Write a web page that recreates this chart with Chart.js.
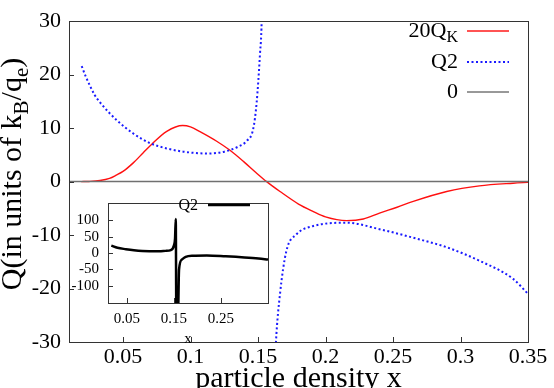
<!DOCTYPE html>
<html lang="en">
<head>
<meta charset="UTF-8" />
<title>Q versus particle density</title>
<script src="https://cdn.jsdelivr.net/npm/chart.js@4.4.0/dist/chart.umd.min.js"></script>
<style>
  body { margin: 0; background: #fff; }
  #wrap { position: relative; width: 554px; height: 388px; overflow: hidden; }
  #mainChart { position: absolute; left: 0; top: 0; }
  #insetChart { position: absolute; left: 60px; top: 185px; }
</style>
</head>
<body>
<div id="wrap">
  <canvas id="mainChart" width="554" height="388"></canvas>
  <canvas id="insetChart" width="215" height="165"></canvas>
</div>
<script>
const SERIF = "'Liberation Serif', 'Times New Roman', serif";

// main panel
const xTicks = [0.05, 0.1, 0.15, 0.2, 0.25, 0.3, 0.35];
const yTicks = [-30, -20, -10, 0, 10, 20, 30];

// 20 Q_K
const kX = [0.019, 0.025, 0.033, 0.04, 0.045, 0.05, 0.0576, 0.065, 0.0713, 0.0824, 0.0942, 0.1, 0.107, 0.1194,
  0.129, 0.14, 0.148, 0.1564, 0.1663, 0.18, 0.191, 0.2, 0.2157, 0.228, 0.24, 0.253, 0.265, 0.2898, 0.314,
  0.339, 0.35];
const kQ = [0, 0.03, 0.2, 0.6, 1.2, 1.9, 3.5, 5.4, 7.0, 9.4, 10.5, 10.25, 9.35, 7.55,
  5.9, 3.6, 1.8, 0, -1.85, -4.2, -5.6, -6.6, -7.3, -7.0, -5.9, -4.8, -3.7, -1.85, -0.8,
  -0.3, -0.15];

// Q2 (null = break at the pole)
const q2X = [0.0194, 0.0225, 0.0256, 0.029, 0.033, 0.0453, 0.0576, 0.07, 0.0824, 0.0947, 0.112, 0.125, 0.135,
  0.1416, 0.1465, 0.149, 0.1515, 0.1527, 0.1545, 0.156, 0.1605, 0.1633, 0.1663, 0.171, 0.1783, 0.191, 0.2157,
  0.24, 0.265, 0.29, 0.314, 0.339, 0.35];
const q2Q = [21.6, 19.6, 17.9, 16.2, 14.8, 11.5, 9.0, 7.2, 6.2, 5.6, 5.25, 5.6, 6.5,
  7.6, 9.9, 14.8, 24, 30, 60, null, -47, -30, -21, -13, -9.9, -8.3, -7.7,
  -8.9, -10.5, -12.3, -14.8, -18.2, -21];

const zeroX = [0.01, 0.35];
const zeroQ = [0, 0];

// inset panel
const inXTicks = [0.05, 0.15, 0.25];
const inYTicks = [-100, -50, 0, 50, 100];
const inX = [0.017, 0.03, 0.048, 0.065, 0.083, 0.1, 0.119, 0.132, 0.1436, 0.15, 0.1525, 0.154, 0.1555, 0.1575,
  0.161, 0.167, 0.175, 0.19, 0.22, 0.26, 0.3, 0.33, 0.35];
const inQ = [22.6, 16, 11.7, 8.5, 6.3, 5.6, 5.4, 6.5, 9, 22.6, 45, 104, -300, -300,
  -50, -20, -12, -8.5, -7.7, -10.2, -13.5, -16.8, -20];

const pts = (xs, ys) => xs.map((x, i) => ({ x: x, y: ys[i] }));
const fixTicks = (list) => (scale) => { scale.ticks = list.map((v) => ({ value: v })); };

Chart.defaults.font.family = SERIF;
Chart.defaults.color = "#000";

// draw text with subscript pieces: [text, size, dy]
function drawRich(ctx, parts, x, y, align) {
  let w = 0;
  parts.forEach((p) => { ctx.font = p[1] + "px " + SERIF; w += ctx.measureText(p[0]).width; });
  let cx = align === "right" ? x - w : align === "center" ? x - w / 2 : x;
  ctx.textAlign = "left";
  ctx.textBaseline = "alphabetic";
  parts.forEach((p) => {
    ctx.font = p[1] + "px " + SERIF;
    ctx.fillText(p[0], cx, y + p[2]);
    cx += ctx.measureText(p[0]).width;
  });
}

// box around the plot and inward tick marks
const framePlugin = {
  id: "frame",
  afterDatasetsDraw(chart, args, opts) {
    const { ctx, chartArea: a, scales } = chart;
    const len = opts.tick || 5;
    ctx.save();
    ctx.strokeStyle = "#333";
    ctx.lineWidth = 1;
    ctx.strokeRect(Math.round(a.left) + 0.5, Math.round(a.top) + 0.5,
      Math.round(a.right - a.left), Math.round(a.bottom - a.top));
    ctx.beginPath();
    scales.x.ticks.forEach((t) => {
      const px = Math.round(scales.x.getPixelForValue(t.value)) + 0.5;
      ctx.moveTo(px, a.bottom);
      ctx.lineTo(px, a.bottom - len);
    });
    scales.y.ticks.forEach((t) => {
      const py = Math.round(scales.y.getPixelForValue(t.value)) + 0.5;
      ctx.moveTo(a.left, py);
      ctx.lineTo(a.left + len, py);
    });
    ctx.stroke();
    ctx.restore();
  },
};

const mainText = {
  id: "mainText",
  afterDraw(chart) {
    const ctx = chart.ctx;
    const a = chart.chartArea;
    ctx.save();
    ctx.fillStyle = "#000";

    // legend, gnuplot style: text then sample
    const items = [
      { parts: [["20Q", 22, 0], ["K", 16, 5]], y: 31, color: "#ff1a1a", dash: [], w: 1.5 },
      { parts: [["Q2", 22, 0]], y: 62, color: "#1a1aff", dash: [2, 2.5], w: 2 },
      { parts: [["0", 22, 0]], y: 92, color: "#333", dash: [], w: 1 },
    ];
    items.forEach((it) => {
      drawRich(ctx, it.parts, 458, it.y + 6, "right");
      ctx.beginPath();
      ctx.setLineDash(it.dash);
      ctx.strokeStyle = it.color;
      ctx.lineWidth = it.w;
      ctx.moveTo(467, it.y);
      ctx.lineTo(509, it.y);
      ctx.stroke();
    });
    ctx.setLineDash([]);

    // x title (partly cut at the bottom edge)
    drawRich(ctx, [["particle density x", 30, 0]], (a.left + a.right) / 2, 387, "center");

    // y title
    ctx.translate(21, 174);
    ctx.rotate(-Math.PI / 2);
    drawRich(ctx, [["Q(in units of k", 30, 0], ["B", 21, 7], ["/q", 30, 0], ["e", 21, 7], [")", 30, 0]], 0, 0, "center");
    ctx.restore();
  },
};

new Chart(document.getElementById("mainChart"), {
  type: "line",
  data: {
    datasets: [
      { label: "0", data: pts(zeroX, zeroQ), borderColor: "#707070", borderWidth: 1.5, pointRadius: 0 },
      { label: "Q2", data: pts(q2X, q2Q), borderColor: "#1a1aff", borderWidth: 2, borderDash: [2, 2.5],
        pointRadius: 0, cubicInterpolationMode: "monotone" },
      { label: "20QK", data: pts(kX, kQ), borderColor: "#ff1010", borderWidth: 1.4,
        pointRadius: 0, cubicInterpolationMode: "monotone" },
    ],
  },
  options: {
    responsive: false,
    animation: false,
    devicePixelRatio: 1,
    layout: { padding: { top: 18, right: 26, left: 0, bottom: 0 } },
    plugins: { legend: { display: false }, tooltip: { enabled: false }, frame: { tick: 5 } },
    scales: {
      x: {
        type: "linear", min: 0.01, max: 0.35,
        afterBuildTicks: fixTicks(xTicks),
        afterFit: (s) => { s.height = 46; },
        grid: { display: false, drawTicks: false },
        border: { display: false },
        ticks: { font: { family: SERIF, size: 22 }, color: "#000", padding: 2, autoSkip: false, maxRotation: 0,
          callback: (v) => String(v) },
      },
      y: {
        type: "linear", min: -30, max: 30,
        afterBuildTicks: fixTicks(yTicks),
        afterFit: (s) => { s.width = 69; },
        grid: { display: false, drawTicks: false },
        border: { display: false },
        ticks: { font: { family: SERIF, size: 22 }, color: "#000", padding: 8, callback: (v) => String(v) },
      },
    },
  },
  plugins: [framePlugin, mainText],
});

const insetText = {
  id: "insetText",
  afterDraw(chart) {
    const ctx = chart.ctx;
    const a = chart.chartArea;
    ctx.save();
    ctx.fillStyle = "#000";
    drawRich(ctx, [["Q2", 16, 0]], 138, 25, "right");
    ctx.beginPath();
    ctx.strokeStyle = "#000";
    ctx.lineWidth = 2.5;
    ctx.moveTo(148, 20);
    ctx.lineTo(190, 20);
    ctx.stroke();
    drawRich(ctx, [["x", 15, 0]], (a.left + a.right) / 2, 157.5, "center");
    ctx.restore();
  },
};

const insetBg = {
  id: "insetBg",
  beforeDraw(chart) {
    const { ctx, chartArea: a } = chart;
    ctx.save();
    ctx.fillStyle = "#fff";
    ctx.fillRect(a.left, a.top, a.right - a.left, a.bottom - a.top);
    ctx.restore();
  },
};

new Chart(document.getElementById("insetChart"), {
  type: "line",
  data: {
    datasets: [
      { label: "Q2", data: pts(inX, inQ), borderColor: "#000", borderWidth: 2.5, pointRadius: 0,
        cubicInterpolationMode: "monotone" },
    ],
  },
  options: {
    responsive: false,
    animation: false,
    devicePixelRatio: 1,
    layout: { padding: { top: 8, right: 7, left: 0, bottom: 0 } },
    plugins: { legend: { display: false }, tooltip: { enabled: false }, frame: { tick: 5 } },
    scales: {
      x: {
        type: "linear", min: 0.01, max: 0.35,
        afterBuildTicks: fixTicks(inXTicks),
        afterFit: (s) => { s.height = 47; },
        grid: { display: false, drawTicks: false },
        border: { display: false },
        ticks: { font: { family: SERIF, size: 15 }, color: "#000", padding: 7, autoSkip: false, maxRotation: 0,
          callback: (v) => String(v) },
      },
      y: {
        type: "linear", min: -153, max: 153,
        afterBuildTicks: fixTicks(inYTicks),
        afterFit: (s) => { s.width = 48; },
        grid: { display: false, drawTicks: false },
        border: { display: false },
        ticks: { font: { family: SERIF, size: 15 }, color: "#000", padding: 9, callback: (v) => String(v) },
      },
    },
  },
  plugins: [insetBg, framePlugin, insetText],
});
</script>
</body>
</html>
